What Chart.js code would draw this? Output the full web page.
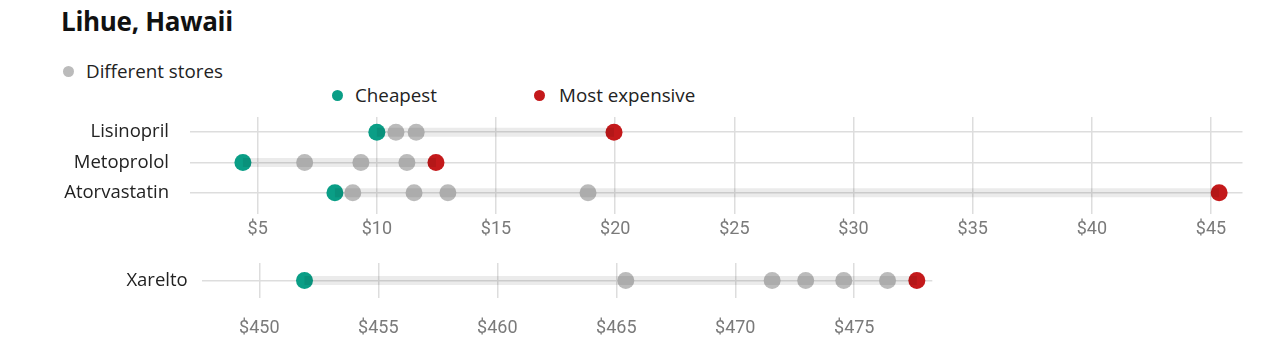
<!DOCTYPE html>
<html>
<head>
<meta charset="utf-8">
<script src="https://cdn.jsdelivr.net/npm/chart.js@4"></script>
<style>
    body { margin: 0; background: #fff; width: 1280px; height: 357px; position: relative; overflow: hidden; font-family: "Open Sans", sans-serif; color: #222; }
    #title { position: absolute; left: 61px; top: 4px; font-size: 26px; line-height: 34px; font-weight: bold; color: #111; letter-spacing: -0.3px; }
    .legend-item { position: absolute; font-size: 18.8px; line-height: 22px; height: 22px; white-space: nowrap; }
    .legend-dot { position: absolute; width: 11px; height: 11px; border-radius: 50%; }
    .chart-box { position: absolute; left: 0; width: 1280px; }
</style>
</head>
<body>
<div id="title">Lihue, Hawaii</div>

<span class="legend-dot" style="left:63px; top:66px; background:#bbbbbb"></span>
<div class="legend-item" style="left:86px; top:60px">Different stores</div>
<span class="legend-dot" style="left:332px; top:90px; background:#0a9e86"></span>
<div class="legend-item" style="left:355px; top:84px">Cheapest</div>
<span class="legend-dot" style="left:534px; top:90px; background:#c4191b"></span>
<div class="legend-item" style="left:559px; top:84px">Most expensive</div>

<div class="chart-box" style="top:100px; height:148px"><canvas id="chart-top" width="1280" height="148"></canvas></div>
<div class="chart-box" style="top:250px; height:88px"><canvas id="chart-bottom" width="1280" height="88"></canvas></div>

<script>
// Data
const drugs = ['Lisinopril', 'Metoprolol', 'Atorvastatin'];
const cheapest = [10.0, 4.38, 8.24];
const mostExpensive = [19.95, 12.48, 45.34];
const otherStores = [
    [10.8, 11.65],
    [6.97, 9.33, 11.26],
    [8.99, 11.56, 12.98, 18.86]
];
const topTicks = [5, 10, 15, 20, 25, 30, 35, 40, 45];

const xareltoDrugs = ['Xarelto'];
const xareltoCheapest = [451.9];
const xareltoMostExpensive = [477.63];
const xareltoOtherStores = [
    [465.4, 471.55, 472.96, 474.56, 476.4]
];
const bottomTicks = [450, 455, 460, 465, 470, 475];

// Colors
const gray = '#bbbbbb';
const green = '#0a9e86';
const red = '#c4191b';
const gridColor = '#dddddd';

function buildDatasets(labels, low, high, others) {
    const bands = labels.map((label, i) => ({
        showLine: true,
        data: [{ x: low[i], y: label }, { x: high[i], y: label }],
        borderColor: 'rgba(0, 0, 0, 0.08)',
        borderWidth: 9,
        borderCapStyle: 'butt',
        pointRadius: 0
    }));

    const grayPoints = [];
    others.forEach((values, i) => {
        values.forEach(v => grayPoints.push({ x: v, y: labels[i] }));
    });

    return bands.concat([
        { data: grayPoints, backgroundColor: gray, borderWidth: 0, pointRadius: 8.5 },
        { data: labels.map((l, i) => ({ x: low[i], y: l })), backgroundColor: green, borderWidth: 0, pointRadius: 8.5 },
        { data: labels.map((l, i) => ({ x: high[i], y: l })), backgroundColor: red, borderWidth: 0, pointRadius: 8.5 }
    ]);
}

function renderDotChart(canvasId, labels, datasets, opts) {
    const ctx = document.getElementById(canvasId).getContext('2d');
    return new Chart(ctx, {
        type: 'scatter',
        data: { datasets: datasets },
        options: {
            responsive: false,
            animation: false,
            layout: { padding: { top: opts.padTop, right: opts.padRight, bottom: 0, left: 0 } },
            plugins: { legend: { display: false }, tooltip: { enabled: false } },
            scales: {
                x: {
                    type: 'linear',
                    min: opts.min,
                    max: opts.max,
                    border: { display: false },
                    grid: { color: gridColor, lineWidth: 1.5, drawTicks: opts.tickLength > 0, tickLength: opts.tickLength },
                    ticks: {
                        color: '#7a7a7a',
                        font: { family: 'Roboto', size: 18 },
                        padding: opts.tickPadding,
                        maxRotation: 0,
                        callback: v => '$' + v
                    },
                    afterBuildTicks: scale => { scale.ticks = opts.ticks.map(v => ({ value: v })); },
                    afterFit: scale => { scale.height = 40; scale.paddingLeft = 0; scale.paddingRight = 0; }
                },
                y: {
                    type: 'category',
                    labels: labels,
                    offset: true,
                    border: { display: false },
                    grid: { color: gridColor, lineWidth: 1.5, drawTicks: false, offset: false },
                    ticks: {
                        color: '#222',
                        font: { family: 'Open Sans', size: 18.5 },
                        padding: opts.labelPadding
                    },
                    afterFit: scale => { scale.width = opts.axisWidth; scale.paddingTop = 0; scale.paddingBottom = 0; }
                }
            }
        }
    });
}

renderDotChart('chart-top', drugs, buildDatasets(drugs, cheapest, mostExpensive, otherStores), {
    min: 2.16, max: 46.32, ticks: topTicks,
    padTop: 17, padRight: 37.5, axisWidth: 190, labelPadding: 21,
    tickLength: 6, tickPadding: 5
});

renderDotChart('chart-bottom', xareltoDrugs, buildDatasets(xareltoDrugs, xareltoCheapest, xareltoMostExpensive, xareltoOtherStores), {
    min: 447.58, max: 478.28, ticks: bottomTicks,
    padTop: 13, padRight: 347.7, axisWidth: 201.7, labelPadding: 14,
    tickLength: 0, tickPadding: 20
});
</script>
</body>
</html>
